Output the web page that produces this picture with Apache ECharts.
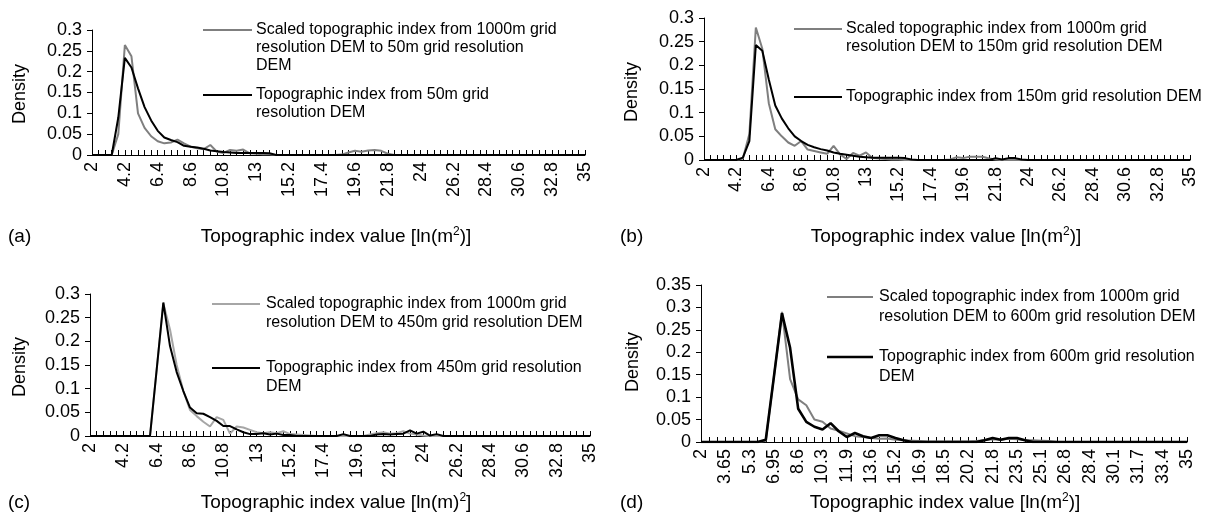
<!DOCTYPE html>
<html>
<head>
<meta charset="utf-8">
<script src="https://cdn.jsdelivr.net/npm/echarts@6/dist/echarts.min.js"></script>
<style>html,body{margin:0;padding:0;background:#fff;}#c{width:1211px;height:523px;}</style>
</head>
<body>
<div id="c"></div>
<script>
// Categories (topographic index value bins)
const catsABC = ["2","2.44","2.88","3.32","3.76","4.2","4.64","5.08","5.52","5.96","6.4","6.84","7.28","7.72","8.16","8.6","9.04","9.48","9.92","10.36","10.8","11.24","11.68","12.12","12.56","13","13.44","13.88","14.32","14.76","15.2","15.64","16.08","16.52","16.96","17.4","17.84","18.28","18.72","19.16","19.6","20.04","20.48","20.92","21.36","21.8","22.24","22.68","23.12","23.56","24","24.44","24.88","25.32","25.76","26.2","26.64","27.08","27.52","27.96","28.4","28.84","29.28","29.72","30.16","30.6","31.04","31.48","31.92","32.36","32.8","33.24","33.68","34.12","34.56","35"];
const catsD = ["2","2.55","3.1","3.65","4.2","4.75","5.3","5.85","6.4","6.95","7.5","8.05","8.6","9.15","9.7","10.3","10.8","11.35","11.9","12.45","13","13.6","14.1","14.65","15.2","15.75","16.3","16.9","17.4","17.95","18.5","19.05","19.6","20.2","20.7","21.25","21.8","22.35","22.9","23.5","24","24.55","25.1","25.65","26.2","26.8","27.3","27.85","28.4","28.95","29.5","30.1","30.6","31.15","31.7","32.25","32.8","33.4","33.9","34.45","35"];

// (a) 50 m
const scaledA = [0,0,0,0,0.05,0.264,0.237,0.1,0.065,0.045,0.033,0.028,0.03,0.037,0.028,0.02,0.016,0.014,0.024,0.008,0.005,0.012,0.01,0.013,0.004,0.003,0.002,0.002,0,0,0,0,0,0,0,0,0,0,0.001,0.006,0.01,0.008,0.011,0.012,0.01,0.003,0,0,0,0,0,0,0,0,0,0,0,0,0,0,0,0,0,0,0,0,0,0,0,0,0,0,0,0,0,0];
const topoA = [0,0,0,0,0.09,0.233,0.21,0.16,0.115,0.083,0.058,0.042,0.036,0.031,0.022,0.02,0.018,0.015,0.011,0.009,0.007,0.006,0.005,0.005,0.005,0.005,0.005,0.004,0,0,0,0,0,0,0,0,0,0,0,0,0,0,0,0,0,0,0,0,0,0,0,0,0,0,0,0,0,0,0,0,0,0,0,0,0,0,0,0,0,0,0,0,0,0,0,0];
// (b) 150 m
const scaledB = [0,0,0,0,0,0,0.003,0.055,0.28,0.235,0.12,0.065,0.05,0.037,0.03,0.04,0.022,0.019,0.016,0.013,0.03,0.012,0.002,0.015,0.009,0.016,0.004,0.003,0.002,0.001,0.001,0,0,0,0,0,0,0,0.001,0.006,0.004,0.007,0.007,0.007,0.003,0.001,0,0,0,0,0,0,0,0,0,0,0,0,0,0,0,0,0,0,0,0,0,0,0,0,0,0,0,0,0,0];
const topoB = [0,0,0,0,0,0,0.005,0.04,0.243,0.231,0.17,0.115,0.088,0.067,0.05,0.04,0.032,0.027,0.023,0.02,0.016,0.013,0.011,0.009,0.007,0.006,0.005,0.005,0.005,0.005,0.005,0.004,0.001,0,0,0,0,0,0,0,0,0,0,0,0,0.004,0.001,0.004,0.004,0.001,0,0,0,0,0,0,0,0,0,0,0,0,0,0,0,0,0,0,0,0,0,0,0,0,0,0];
// (c) 450 m
const scaledC = [0,0,0,0,0,0,0,0,0,0,0.14,0.28,0.225,0.15,0.095,0.055,0.042,0.03,0.02,0.04,0.034,0.005,0.02,0.018,0.013,0.008,0.006,0.008,0.006,0.01,0.004,0.003,0.002,0.001,0,0,0,0,0,0,0,0,0.003,0.006,0.008,0.005,0.006,0.01,0.005,0.003,0.001,0,0,0,0,0,0,0,0,0,0,0,0,0,0,0,0,0,0,0,0,0,0,0,0,0];
const topoC = [0,0,0,0,0,0,0,0,0,0,0.14,0.282,0.19,0.135,0.095,0.06,0.048,0.047,0.04,0.032,0.021,0.021,0.014,0.008,0.004,0.004,0.006,0.003,0.005,0.002,0.002,0,0,0,0,0,0,0,0.004,0,0,0,0,0.003,0.004,0.003,0.004,0.005,0.012,0.005,0.009,0.001,0.004,0,0,0,0,0,0,0,0,0,0,0,0,0,0,0,0,0,0,0,0,0,0,0];
// (d) 600 m
const scaledD = [0,0,0,0,0,0,0,0,0.003,0.145,0.29,0.14,0.095,0.082,0.05,0.045,0.03,0.025,0.019,0.013,0.011,0.009,0.007,0.008,0.005,0.004,0.003,0.002,0.001,0.001,0.001,0.001,0.001,0.001,0.002,0.004,0.006,0.005,0.007,0.006,0.004,0.004,0.003,0.002,0,0,0,0,0,0,0,0,0,0,0,0,0,0,0,0,0];
const topoD = [0,0,0,0,0,0,0,0,0.005,0.145,0.287,0.21,0.074,0.045,0.034,0.028,0.042,0.024,0.011,0.02,0.013,0.009,0.015,0.015,0.009,0.004,0,0,0,0,0,0,0,0,0,0.004,0.009,0.005,0.009,0.009,0.004,0,0,0,0,0,0,0,0,0,0,0,0,0,0,0,0,0,0,0,0];

const FONT = '"Liberation Sans", Arial, Helvetica, sans-serif';
const grids = [
  {left: 92, top: 30, width: 493, height: 125},
  {left: 704, top: 18, width: 486, height: 142},
  {left: 90, top: 294, width: 500, height: 142},
  {left: 701, top: 285, width: 486, height: 157}
];
const panels = [
  {cats: catsABC, sc: scaledA, tp: topoA, ymax: 0.3, lblInt: 4, gray: '#7f7f7f', bw: 2,
   scName: 'Scaled topographic index from 1000m grid\nresolution DEM to 50m grid resolution\nDEM',
   tpName: 'Topographic index from 50m grid\nresolution DEM'},
  {cats: catsABC, sc: scaledB, tp: topoB, ymax: 0.3, lblInt: 4, gray: '#7f7f7f', bw: 2,
   scName: 'Scaled topographic index from 1000m grid\nresolution DEM to 150m grid resolution DEM',
   tpName: 'Topographic index from 150m grid resolution DEM'},
  {cats: catsABC, sc: scaledC, tp: topoC, ymax: 0.3, lblInt: 4, gray: '#a6a6a6', bw: 2,
   scName: 'Scaled topographic index from 1000m grid\nresolution DEM to 450m grid resolution DEM',
   tpName: 'Topographic index from 450m grid resolution\nDEM'},
  {cats: catsD, sc: scaledD, tp: topoD, ymax: 0.35, lblInt: 2, gray: '#7f7f7f', bw: 2.6,
   scName: 'Scaled topographic index from 1000m grid\nresolution DEM to 600m grid resolution DEM',
   tpName: 'Topographic index from 600m grid resolution\nDEM'}
];

const xAxis = [], yAxis = [], series = [];
panels.forEach((p, i) => {
  xAxis.push({type: 'category', gridIndex: i, data: p.cats, boundaryGap: false,
    axisLine: {lineStyle: {color: '#000', width: 1}},
    axisTick: {inside: true, length: 5, interval: 0, lineStyle: {color: '#000'}},
    axisLabel: {rotate: 90, interval: p.lblInt, fontSize: 18, color: '#000', margin: 7, fontFamily: FONT},
    splitLine: {show: false}});
  yAxis.push({type: 'value', gridIndex: i, min: 0, max: p.ymax, interval: 0.05,
    axisLine: {show: true, lineStyle: {color: '#000', width: 1}},
    axisTick: {show: true, length: 5, lineStyle: {color: '#000'}},
    axisLabel: {fontSize: 18, color: '#000', margin: 10, fontFamily: FONT},
    splitLine: {show: false}});
  series.push({type: 'line', name: p.scName, xAxisIndex: i, yAxisIndex: i, data: p.sc, symbol: 'none',
    lineStyle: {color: p.gray, width: 2}, itemStyle: {color: p.gray}, z: 2});
  series.push({type: 'line', name: p.tpName, xAxisIndex: i, yAxisIndex: i, data: p.tp, symbol: 'none',
    lineStyle: {color: '#000', width: p.bw}, itemStyle: {color: '#000'}, z: 3});
});

function txt(x, y, text, opts) {
  return Object.assign({type: 'text', x: x, y: y,
    style: Object.assign({text: text, fill: '#000', font: '16px ' + FONT, textVerticalAlign: 'middle'}, (opts && opts.style) || {})},
    opts && opts.rot ? {rotation: opts.rot} : {});
}
function legendItem(x1, x2, yLine, color, tx, text, lh, lw) {
  return [
    {type: 'line', shape: {x1: x1, y1: yLine, x2: x2, y2: yLine}, style: {stroke: color, lineWidth: lw || 2}},
    {type: 'text', x: tx, y: yLine - lh / 2, style: {text: text, fill: '#000', font: '16px ' + FONT, lineHeight: lh, textVerticalAlign: 'top'}}
  ];
}
const titleRich = {sup: {fontSize: 12, verticalAlign: 'top', fontFamily: FONT, lineHeight: 23}};
function xTitle(cx, y, text) {
  return {type: 'text', x: cx, y: y, style: {text: text, rich: titleRich, fill: '#000', fontSize: 19, fontFamily: FONT, lineHeight: 23, textAlign: 'center', textVerticalAlign: 'middle'}};
}

const graphic = [].concat(
  legendItem(203, 252, 30, panels[0].gray, 256, panels[0].scName, 18),
  legendItem(203, 252, 95, '#000', 256, panels[0].tpName, 18),
  legendItem(794, 842, 29, panels[1].gray, 846, panels[1].scName, 18),
  legendItem(794, 842, 97, '#000', 846, panels[1].tpName, 18),
  legendItem(212, 260, 304, panels[2].gray, 266, panels[2].scName, 19),
  legendItem(212, 260, 368, '#000', 266, panels[2].tpName, 19),
  legendItem(827, 873, 297, panels[3].gray, 879, panels[3].scName, 20),
  legendItem(827, 873, 357, '#000', 879, panels[3].tpName, 20, 2.6),
  [
    txt(20, 94, 'Density', {rot: Math.PI / 2, style: {textAlign: 'center', font: '18px ' + FONT}}),
    txt(632, 92, 'Density', {rot: Math.PI / 2, style: {textAlign: 'center', font: '18px ' + FONT}}),
    txt(20, 367, 'Density', {rot: Math.PI / 2, style: {textAlign: 'center', font: '18px ' + FONT}}),
    txt(633, 362, 'Density', {rot: Math.PI / 2, style: {textAlign: 'center', font: '18px ' + FONT}}),
    txt(8, 237, '(a)', {style: {font: '19px ' + FONT}}), txt(620, 237, '(b)', {style: {font: '19px ' + FONT}}),
    txt(8, 503, '(c)', {style: {font: '19px ' + FONT}}), txt(620, 503, '(d)', {style: {font: '19px ' + FONT}}),
    xTitle(336, 237, 'Topographic index value [ln(m{sup|2})]'),
    xTitle(946, 237, 'Topographic index value [ln(m{sup|2})]'),
    xTitle(336, 503, 'Topographic index value [ln(m){sup|2}]'),
    xTitle(945, 503, 'Topographic index value [ln(m{sup|2})]')
  ]
);

const chart = echarts.init(document.getElementById('c'), null, {renderer: 'canvas'});
chart.setOption({
  animation: false,
  backgroundColor: '#fff',
  textStyle: {fontFamily: FONT},
  grid: grids,
  xAxis: xAxis,
  yAxis: yAxis,
  series: series,
  graphic: graphic
});
</script>
</body>
</html>
